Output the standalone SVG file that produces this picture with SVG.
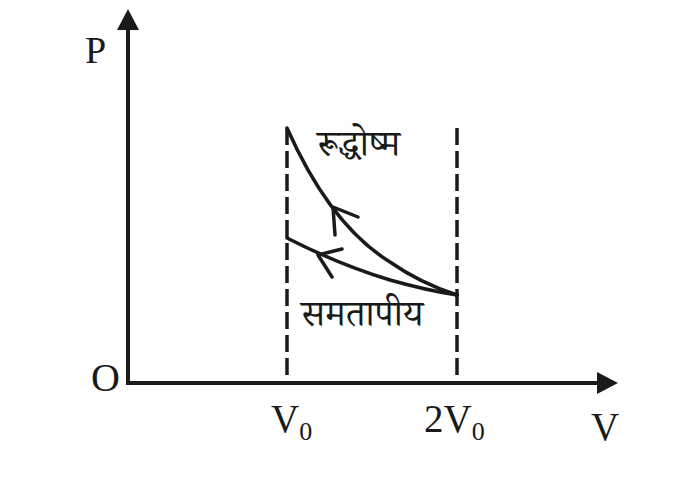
<svg xmlns="http://www.w3.org/2000/svg" width="684" height="482" viewBox="0 0 684 482">
<style>
.ax{stroke:#1a1a1a;stroke-width:4;fill:none}
.dash{stroke:#1a1a1a;stroke-width:3.5;stroke-dasharray:17 6;fill:none}
.cur{stroke:#1a1a1a;stroke-width:3.5;fill:none;stroke-linecap:round;stroke-linejoin:round}
.lbl{font-family:"Liberation Serif","Times New Roman",serif;fill:#1a1a1a}
.hin{font-family:"Noto Serif Devanagari","Noto Sans Devanagari","Noto Sans","Liberation Serif",serif;fill:#1a1a1a;font-size:37px}
</style>
<rect width="684" height="482" fill="#fff"/>
<g id="axes">
<line class="ax" x1="128" y1="385" x2="128" y2="26"/>
<polygon points="128,9 117,30 139,30" fill="#1a1a1a"/>
<line class="ax" x1="126" y1="383" x2="600" y2="383"/>
<polygon points="618,383 597,372 597,394" fill="#1a1a1a"/>
</g>
<g id="guides">
<line class="dash" x1="287" y1="128" x2="287" y2="383"/>
<line class="dash" x1="457" y1="128" x2="457" y2="383"/>
</g>
<g id="connectors">
<path id="adiabatic" class="cur" d="M287,128 Q330,225 390,262 Q420,283 457,295"/>
<path id="isothermal" class="cur" d="M287,238 Q340,265 390,280 Q425,290 457,295"/>
<polyline class="cur" points="358,217 333,207 335,235"/>
<polyline class="cur" points="342,249 318,255 332,277"/>
</g>
<g id="labels">
<text class="lbl" x="85" y="63" font-size="38">P</text>
<text class="lbl" x="91" y="391" font-size="40">O</text>
<text class="lbl" x="271" y="432" font-size="39">V<tspan font-size="26" dy="8">0</tspan></text>
<text class="lbl" x="424" y="432" font-size="39">2V<tspan font-size="26" dy="8">0</tspan></text>
<text class="lbl" x="591" y="440" font-size="39">V</text>
<text class="hin" x="317" y="156">रूद्धोष्म</text>
<text class="hin" x="301" y="326">समतापीय</text>
</g>
</svg>
